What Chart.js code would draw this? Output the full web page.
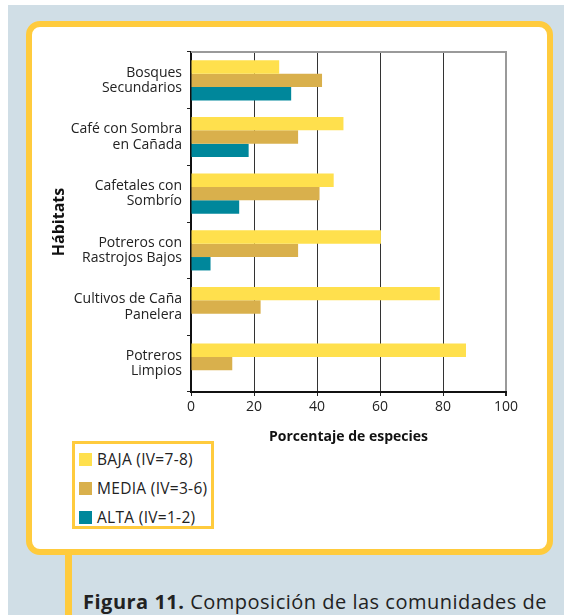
<!DOCTYPE html>
<html>
<head>
<meta charset="utf-8">
<script src="https://cdn.jsdelivr.net/npm/chart.js@4"></script>
<style>
  html, body { margin: 0; padding: 0; background: #fff; }
  body { width: 564px; height: 615px; position: relative; overflow: hidden; font-family: "Open Sans", sans-serif; }
  #bg { position: absolute; left: 8px; top: 5px; right: 0; bottom: 0; background: #d0dee6; }
  #panel { position: absolute; left: 26px; top: 21px; width: 515px; height: 522px;
           border: 6px solid #ffcb3d; border-radius: 14px; background: #fff; }
  #stem { position: absolute; left: 65px; top: 553px; width: 7px; height: 62px; background: #ffcb3d; }
  #chart-wrap { position: absolute; left: 0; top: 0; width: 564px; height: 460px; }
  #legend { position: absolute; left: 72px; top: 441px; width: 136px; height: 82px;
            border: 3px solid #ffcb3d; background: #fff; }
  #legend .item { position: absolute; left: 4px; height: 18px; font-size: 15.5px; letter-spacing: 0.3px;
                  color: #222; white-space: nowrap; line-height: 18px; }
  #legend .sw { display: inline-block; width: 13px; height: 13px; vertical-align: -1px; margin-right: 5px; }
  #caption { position: absolute; left: 83px; top: 588px; font-size: 20px; letter-spacing: 0.5px; color: #222; white-space: nowrap; }
</style>
</head>
<body>
<div id="bg"></div>
<div id="panel"></div>
<div id="stem"></div>
<div id="chart-wrap"><canvas id="habitats"></canvas></div>
<div id="legend"></div>
<div id="caption"><b>Figura 11.</b> Composición de las comunidades de</div>
<script>
var habitats = [
    ['Bosques', 'Secundarios'],
    ['Café con Sombra', 'en Cañada'],
    ['Cafetales con', 'Sombrío'],
    ['Potreros con', 'Rastrojos Bajos'],
    ['Cultivos de Caña', 'Panelera'],
    ['Potreros', 'Limpios']
];
var baja = [28, 48.4, 45.3, 60.3, 79, 87.3];
var media = [41.6, 34, 40.8, 34, 22.1, 13.1];
var alta = [31.8, 18.3, 15.3, 6.2, 0, 0];
var xTicks = [0, 20, 40, 60, 80, 100];

var font = '"Open Sans", sans-serif';

// top edge of the plot box (Chart.js only draws the axes)
var frameTop = {
    id: 'frameTop',
    afterDraw: function (chart) {
        var a = chart.chartArea, ctx = chart.ctx;
        ctx.save();
        ctx.strokeStyle = '#9a9a9a';
        ctx.lineWidth = 2;
        ctx.beginPath();
        ctx.moveTo(a.left, a.top);
        ctx.lineTo(a.right + 1, a.top);
        ctx.stroke();
        ctx.restore();
    }
};

var chart = new Chart(document.getElementById('habitats'), {
    type: 'bar',
    data: {
        labels: habitats,
        datasets: [
            { label: 'BAJA (IV=7-8)', data: baja, backgroundColor: '#ffe04d' },
            { label: 'MEDIA (IV=3-6)', data: media, backgroundColor: '#d9b04c' },
            { label: 'ALTA (IV=1-2)', data: alta, backgroundColor: '#00879b' }
        ]
    },
    options: {
        indexAxis: 'y',
        responsive: true,
        maintainAspectRatio: false,
        animation: false,
        datasets: { bar: { categoryPercentage: 0.71, barPercentage: 1.0 } },
        layout: { padding: { left: 50, top: 52, right: 58, bottom: 15 } },
        plugins: { legend: { display: false }, tooltip: { enabled: false } },
        scales: {
            x: {
                min: 0,
                max: 100,
                afterBuildTicks: function (scale) {
                    scale.ticks = xTicks.map(function (v) { return { value: v }; });
                },
                afterFit: function (scale) { scale.height = 53; },
                grid: {
                    color: function (c) { return c.tick && c.tick.value === 100 ? '#9a9a9a' : '#333'; },
                    lineWidth: function (c) { return c.tick && c.tick.value === 100 ? 2 : 1; },
                    tickColor: '#222',
                    tickLength: 4
                },
                border: { color: '#111', width: 2 },
                ticks: { color: '#222', font: { family: font, size: 14 }, padding: 3 },
                title: {
                    display: true,
                    text: 'Porcentaje de especies',
                    color: '#111',
                    font: { family: font, size: 14, weight: 'bold' },
                    padding: 0
                }
            },
            y: {
                afterFit: function (scale) { scale.width = 141; },
                grid: { drawOnChartArea: false, tickLength: 4, tickColor: '#222', offset: true },
                border: { color: '#111', width: 2 },
                ticks: { color: '#222', font: { family: font, size: 14, lineHeight: 1.1 }, padding: 5 },
                title: {
                    display: true,
                    text: 'Hábitats',
                    color: '#111',
                    font: { family: font, size: 16, weight: 'bold' },
                    padding: 0
                }
            }
        }
    },
    plugins: [frameTop]
});

// legend box built from the chart's datasets
var legend = document.getElementById('legend');
chart.data.datasets.forEach(function (ds, i) {
    var item = document.createElement('div');
    item.className = 'item';
    item.style.top = (6 + i * 29) + 'px';
    var sw = document.createElement('span');
    sw.className = 'sw';
    sw.style.background = ds.backgroundColor;
    item.appendChild(sw);
    item.appendChild(document.createTextNode(ds.label));
    legend.appendChild(item);
});
</script>
</body>
</html>
